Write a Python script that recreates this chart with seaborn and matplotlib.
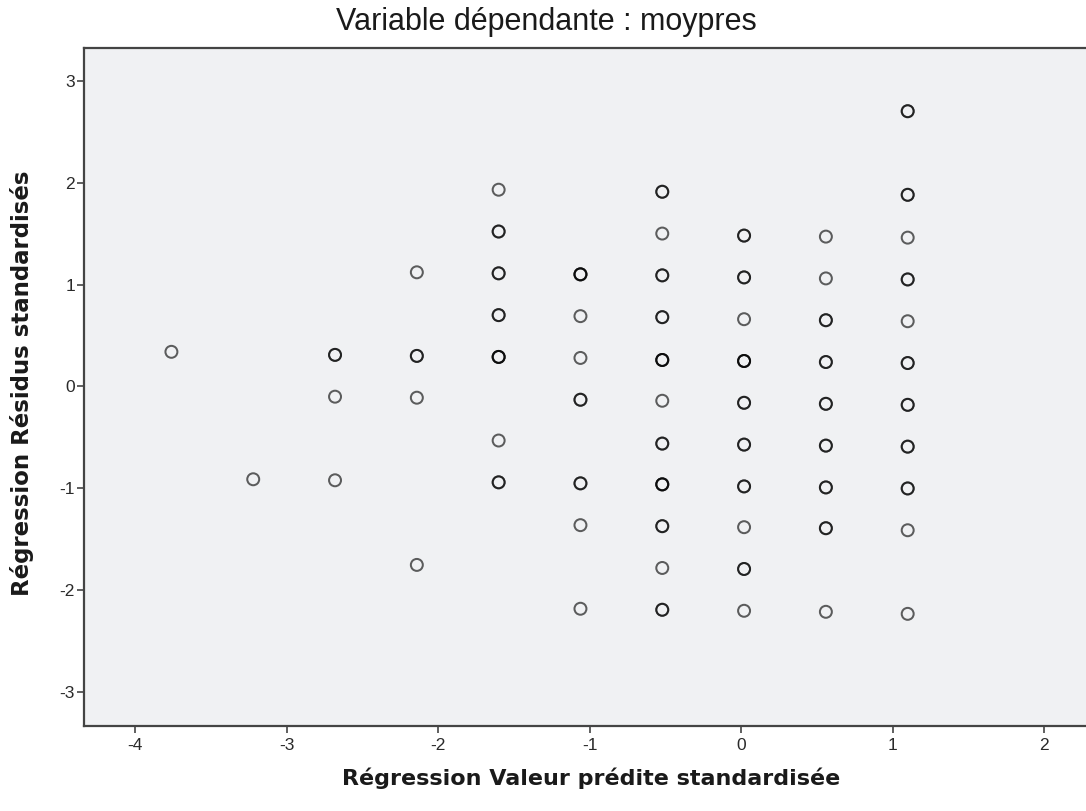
import numpy as np
import pandas as pd
import matplotlib
matplotlib.use("Agg")
import matplotlib.pyplot as plt
import seaborn as sns

# Standardized predicted value, standardized residual, and number of cases sharing the point
pred = [-3.76,
        -3.22,
        -2.68, -2.68, -2.68,
        -2.14, -2.14, -2.14, -2.14,
        -1.60, -1.60, -1.60, -1.60, -1.60, -1.60, -1.60,
        -1.06, -1.06, -1.06, -1.06, -1.06, -1.06, -1.06,
        -0.52, -0.52, -0.52, -0.52, -0.52, -0.52, -0.52, -0.52, -0.52, -0.52, -0.52,
        0.02, 0.02, 0.02, 0.02, 0.02, 0.02, 0.02, 0.02, 0.02, 0.02,
        0.56, 0.56, 0.56, 0.56, 0.56, 0.56, 0.56, 0.56, 0.56,
        1.10, 1.10, 1.10, 1.10, 1.10, 1.10, 1.10, 1.10, 1.10, 1.10, 1.10]
resid = [0.34,
         -0.91,
         0.31, -0.10, -0.92,
         1.12, 0.30, -0.11, -1.75,
         1.93, 1.52, 1.11, 0.70, 0.29, -0.53, -0.94,
         1.10, 0.69, 0.28, -0.13, -0.95, -1.36, -2.18,
         1.91, 1.50, 1.09, 0.68, 0.26, -0.14, -0.56, -0.96, -1.37, -1.78, -2.19,
         1.48, 1.07, 0.66, 0.25, -0.16, -0.57, -0.98, -1.38, -1.79, -2.20,
         1.47, 1.06, 0.65, 0.24, -0.17, -0.58, -0.99, -1.39, -2.21,
         2.70, 1.88, 1.46, 1.05, 0.64, 0.23, -0.18, -0.59, -1.00, -1.41, -2.23]
cases = [1,
         1,
         2, 1, 1,
         1, 2, 1, 1,
         1, 2, 2, 2, 3, 1, 2,
         3, 1, 1, 2, 2, 1, 1,
         2, 1, 2, 2, 3, 1, 2, 3, 2, 1, 2,
         2, 2, 1, 3, 2, 2, 2, 1, 2, 1,
         1, 1, 2, 2, 2, 2, 2, 2, 1,
         2, 2, 1, 2, 1, 2, 2, 2, 2, 1, 1]

x_ticks = [-4, -3, -2, -1, 0, 1, 2]
y_ticks = [-3, -2, -1, 0, 1, 2, 3]

title = "Variable dépendante : moypres"
x_label = "Régression Valeur prédite standardisée"
y_label = "Régression Résidus standardisés"

# One row per case, so coincident cases overplot and darken the circle
df = pd.DataFrame({"pred": np.repeat(pred, cases), "resid": np.repeat(resid, cases)})

sns.set_style("white")
plt.rcParams["font.family"] = ["Liberation Sans", "DejaVu Sans"]

W, H = 1086, 811
fig = plt.figure(figsize=(W / 100, H / 100), dpi=100)
fig.patch.set_facecolor("white")
ax = fig.add_axes([84 / W, (H - 726) / H, (W - 84) / W, (726 - 48) / H])
ax.set_facecolor("#f0f1f3")

sns.scatterplot(data=df, x="pred", y="resid", ax=ax, marker="o", s=74,
                facecolor="none", edgecolor="black", linewidth=1.45,
                alpha=0.62, legend=False, zorder=3)

ax.set_xlim(-4.337, 2.277)
ax.set_ylim(-3.33, 3.32)
ax.set_xticks(x_ticks)
ax.set_yticks(y_ticks)
ax.set_xticklabels([str(v) for v in x_ticks])
ax.set_yticklabels([str(v) for v in y_ticks])
ax.tick_params(axis="both", direction="out", length=5, width=1.2, color="#444444",
               labelsize=12.5, labelcolor="#2a2a2a", pad=1.5)
ax.tick_params(axis="x", pad=4)
ax.tick_params(left=True, bottom=True)

for side in ["left", "bottom", "top"]:
    ax.spines[side].set_visible(True)
    ax.spines[side].set_color("#444444")
    ax.spines[side].set_linewidth(1.6)
ax.spines["right"].set_visible(False)

ax.set_xlabel("")
ax.set_ylabel("")

fig.text(546 / W, 1 - 22 / H, title, ha="center", va="center", fontsize=22, color="#1a1a1a")
fig.text(591 / W, 1 - 778 / H, x_label, ha="center", va="center", fontsize=16,
         fontweight="bold", family=["DejaVu Sans"], color="#1a1a1a")
fig.text(22 / W, 1 - 383 / H, y_label, ha="center", va="center", rotation=90, fontsize=16.5,
         fontweight="bold", family=["DejaVu Sans"], color="#1a1a1a")

fig.savefig("out.png", dpi=100)
